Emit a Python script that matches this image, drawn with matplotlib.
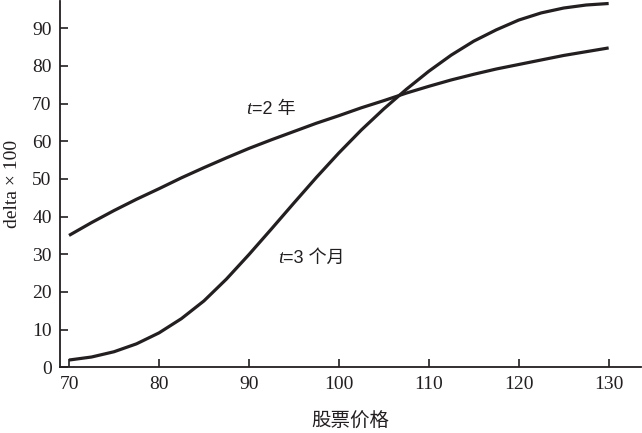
import matplotlib
matplotlib.use('Agg')
import matplotlib.pyplot as plt

plt.rcParams['font.family'] = ['Liberation Serif', 'Noto Sans CJK SC', 'DejaVu Sans']
plt.rcParams['axes.unicode_minus'] = False

# 股票价格
price = [70, 72.5, 75, 77.5, 80, 82.5, 85, 87.5, 90, 92.5, 95, 97.5, 100,
         102.5, 105, 107.5, 110, 112.5, 115, 117.5, 120, 122.5, 125, 127.5, 130]
# t=2 年 的 delta x 100
delta_2y = [35.0, 38.4, 41.6, 44.6, 47.4, 50.3, 53.0, 55.6, 58.1, 60.4, 62.6,
            64.8, 66.8, 68.9, 70.8, 72.8, 74.6, 76.3, 77.8, 79.2, 80.4, 81.6,
            82.8, 83.8, 84.8]
# t=3 个月 的 delta x 100
delta_3m = [1.9, 2.7, 4.1, 6.2, 9.1, 12.9, 17.6, 23.4, 29.9, 36.7, 43.6, 50.4,
            56.9, 63.0, 68.6, 73.8, 78.6, 82.9, 86.6, 89.6, 92.2, 94.1, 95.4,
            96.2, 96.6]

xticks = [70, 80, 90, 100, 110, 120, 130]
yticks = [0, 10, 20, 30, 40, 50, 60, 70, 80, 90]

ink = '#231f20'
label_font = ['Liberation Sans', 'Noto Sans CJK SC', 'DejaVu Sans']

fig = plt.figure(figsize=(6.42, 4.33), dpi=100)
ax = fig.add_axes([0.0935, 0.152, 0.905, 0.846])

ax.plot(price, delta_2y, color=ink, lw=2.3, solid_capstyle='butt')
ax.plot(price, delta_3m, color=ink, lw=2.3, solid_capstyle='butt')

# 曲线标注: 斜体 t + 其余文字
for xx, yy, rest in [(90.3, 68.4, '=2 年'), (93.8, 29.0, '=3 个月')]:
    ax.text(xx, yy, 't', fontsize=14, style='italic', ha='right', va='center',
            color=ink, family='Liberation Serif')
    ax.text(xx, yy, rest, fontsize=13, ha='left', va='center', color=ink,
            family=label_font)

ax.set_xlim(69.0, 133.6)
ax.set_ylim(0, 97.3)
ax.set_xticks(xticks)
ax.set_yticks(yticks)

for side in ['top', 'right']:
    ax.spines[side].set_visible(False)
for side in ['left', 'bottom']:
    ax.spines[side].set_linewidth(1.3)
    ax.spines[side].set_color(ink)

ax.tick_params(direction='in', length=6, width=1.2, colors=ink,
               labelsize=14, pad=6)

ax.set_xlabel('股票价格', fontsize=14, color=ink, labelpad=13,
              fontweight='light', family=['Noto Sans CJK SC', 'DejaVu Sans'])
ax.set_ylabel('delta × 100', fontsize=14, color=ink, labelpad=8)

fig.savefig('out.png', dpi=100)
